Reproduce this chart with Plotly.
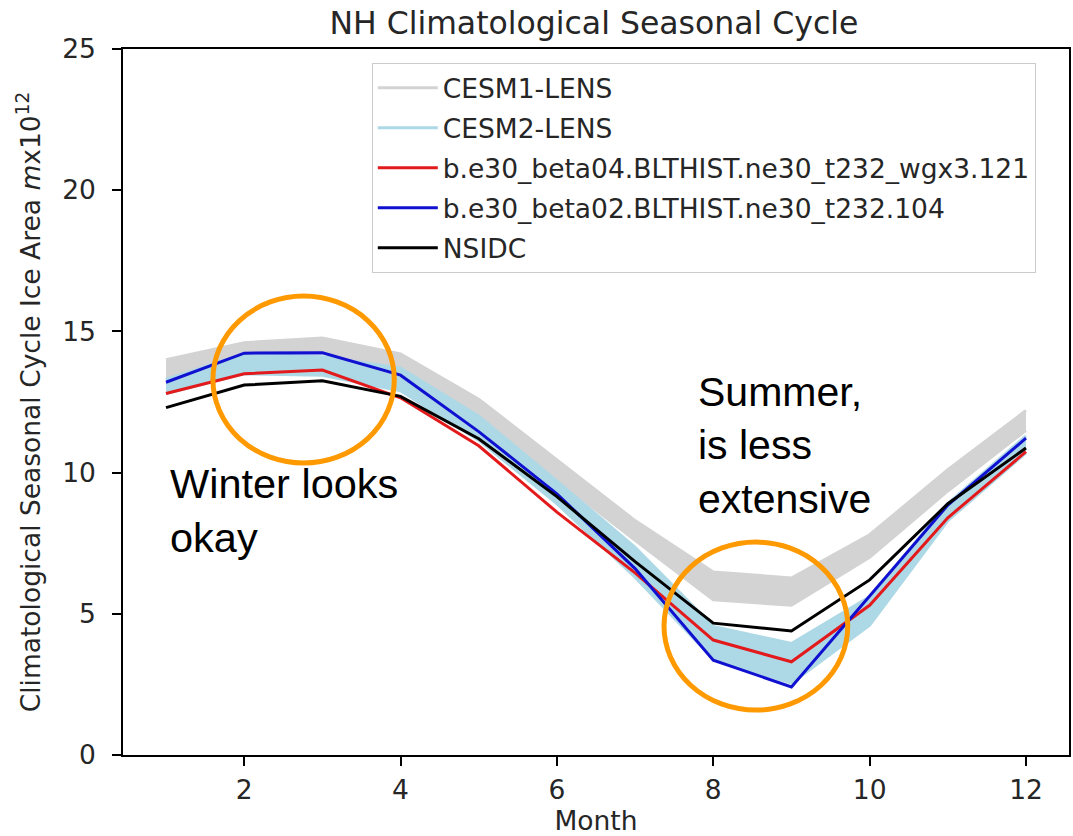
import plotly.graph_objects as go

months = list(range(1, 13))

nsidc = [12.3, 13.1, 13.25, 12.7, 11.2, 9.15, 6.85, 4.67, 4.39, 6.2, 8.9, 10.87]
beta04 = [12.8, 13.5, 13.63, 12.65, 10.95, 8.6, 6.45, 4.07, 3.3, 5.3, 8.4, 10.74]
beta02 = [13.2, 14.23, 14.24, 13.45, 11.45, 9.25, 6.6, 3.36, 2.41, 5.65, 8.85, 11.22]

cesm1_hi = [14.0, 14.6, 14.77, 14.2, 12.6, 10.45, 8.3, 6.48, 6.27, 7.8, 10.1, 12.2]
cesm1_lo = [13.3, 14.25, 14.27, 13.5, 12.0, 9.75, 7.6, 5.5, 5.3, 7.0, 9.35, 11.5]

cesm2_hi = [13.3, 14.2, 14.1, 13.7, 12.0, 9.7, 7.35, 4.55, 3.95, 5.6, 8.9, 11.3]
cesm2_lo = [12.8, 13.5, 13.45, 12.9, 11.15, 8.9, 6.3, 3.4, 2.55, 4.6, 8.3, 10.7]

x_ticks = [2, 4, 6, 8, 10, 12]
y_ticks = [0, 5, 10, 15, 20, 25]

# annotation circles (data coords)
circle_winter = dict(x0=1.60, x1=3.92, y0=10.34, y1=16.25)
circle_summer = dict(x0=7.37, x1=9.72, y0=1.59, y1=7.54)

FONT = "DejaVu Sans"
TXT = "#262626"
FS = 26.5

fig = go.Figure()

# CESM1-LENS band
fig.add_trace(go.Scatter(x=months, y=cesm1_lo, mode="lines", name="CESM1-LENS",
                         line=dict(color="#d3d3d3", width=3), legendgroup="g1"))
fig.add_trace(go.Scatter(x=months, y=cesm1_hi, mode="lines", fill="tonexty",
                         fillcolor="#d3d3d3", line=dict(color="#d3d3d3", width=3),
                         showlegend=False, legendgroup="g1"))
# CESM2-LENS band
fig.add_trace(go.Scatter(x=months, y=cesm2_lo, mode="lines", name="CESM2-LENS",
                         line=dict(color="#add8e6", width=3), legendgroup="g2"))
fig.add_trace(go.Scatter(x=months, y=cesm2_hi, mode="lines", fill="tonexty",
                         fillcolor="#add8e6", line=dict(color="#add8e6", width=3),
                         showlegend=False, legendgroup="g2"))

fig.add_trace(go.Scatter(x=months, y=beta04, mode="lines",
                         name="b.e30_beta04.BLTHIST.ne30_t232_wgx3.121",
                         line=dict(color="#e31a1c", width=3), legendgroup="g3"))
fig.add_trace(go.Scatter(x=months, y=beta02, mode="lines",
                         name="b.e30_beta02.BLTHIST.ne30_t232.104",
                         line=dict(color="#1010d0", width=3), legendgroup="g4"))
fig.add_trace(go.Scatter(x=months, y=nsidc, mode="lines", name="NSIDC",
                         line=dict(color="#000000", width=3), legendgroup="g5"))

for c in (circle_winter, circle_summer):
    fig.add_shape(type="circle", xref="x", yref="y", **c,
                  line=dict(color="#ff9900", width=5), fillcolor="rgba(0,0,0,0)")

fig.add_annotation(x=1.02, y=10.5, xref="x", yref="y", xanchor="left", yanchor="top",
                   text="Winter looks<br>okay", showarrow=False, align="left",
                   font=dict(family="Liberation Sans", size=41.5, color="#000000"))
fig.add_annotation(x=7.78, y=13.75, xref="x", yref="y", xanchor="left", yanchor="top",
                   text="Summer,<br>is less<br>extensive", showarrow=False, align="left",
                   font=dict(family="Liberation Sans", size=41, color="#000000"))

fig.update_layout(
    width=1073, height=836,
    margin=dict(l=123, r=4, t=49, b=81),
    plot_bgcolor="white", paper_bgcolor="white",
    font=dict(family=FONT, size=FS, color=TXT),
    title=dict(text="NH Climatological Seasonal Cycle", x=0.5535, xanchor="center",
               y=0.972, yanchor="middle", font=dict(family=FONT, size=31.5, color=TXT)),
    legend=dict(x=0.263, y=0.98, xanchor="left", yanchor="top",
                bgcolor="rgba(255,255,255,0.8)", bordercolor="#cccccc", borderwidth=1,
                font=dict(family=FONT, size=FS, color=TXT), tracegroupgap=2.5,
                traceorder="grouped", itemwidth=60),
    showlegend=True,
)
fig.update_xaxes(range=[0.45, 12.55], tickvals=x_ticks, ticks="outside", ticklen=9,
                 tickwidth=1.5, tickcolor="#000", showline=True, linecolor="#000",
                 linewidth=1.5, mirror=True, showgrid=False, zeroline=False,
                 automargin=False,
                 tickfont=dict(family=FONT, size=FS, color=TXT), ticklabelstandoff=1,
                 title=dict(text="Month", standoff=8, font=dict(family=FONT, size=FS, color=TXT)))
fig.update_yaxes(range=[0, 25], tickvals=y_ticks, ticks="outside", ticklen=9,
                 tickwidth=1.5, tickcolor="#000", showline=True, linecolor="#000",
                 linewidth=1.5, mirror=True, showgrid=False, zeroline=False,
                 automargin=False,
                 tickfont=dict(family=FONT, size=FS, color=TXT), ticklabelstandoff=11,
                 title=dict(text="Climatological Seasonal Cycle Ice Area <i>m</i>x10<sup>12</sup>",
                            standoff=14, font=dict(family=FONT, size=FS, color=TXT)))

fig.write_html("out.html")
